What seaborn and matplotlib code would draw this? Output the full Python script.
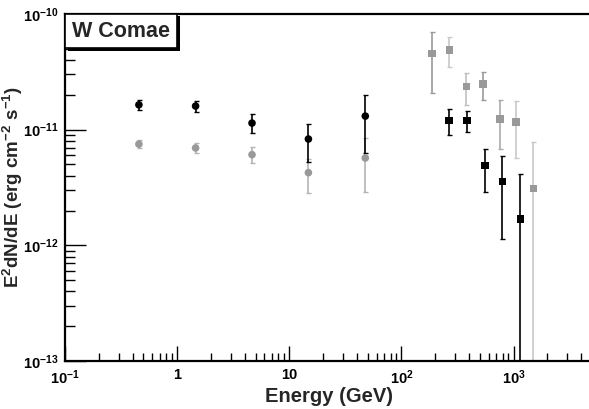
import numpy as np
import pandas as pd
import seaborn as sns
import matplotlib.pyplot as plt
from matplotlib.patches import Rectangle
from matplotlib.ticker import FixedLocator, LogLocator, NullFormatter

# Fermi-LAT like points (circles)
e_circ = [0.456, 1.46, 4.65, 14.8, 47.6]
f_black_circ = [1.64e-11, 1.60e-11, 1.14e-11, 8.3e-12, 1.31e-11]
lo_black_circ = [1.48e-11, 1.43e-11, 9.3e-12, 5.3e-12, 6.25e-12]
hi_black_circ = [1.81e-11, 1.77e-11, 1.36e-11, 1.12e-11, 2.0e-11]

f_gray_circ = [7.5e-12, 6.95e-12, 6.08e-12, 4.25e-12, 5.69e-12]
lo_gray_circ = [6.9e-12, 6.3e-12, 5.1e-12, 2.85e-12, 2.88e-12]
hi_gray_circ = [8.2e-12, 7.6e-12, 7.1e-12, 5.6e-12, 8.4e-12]

# TeV points (squares)
e_gray_sq = [188, 268, 380, 531, 753, 1052, 1500]
f_gray_sq = [4.54e-11, 4.89e-11, 2.36e-11, 2.48e-11, 1.24e-11, 1.17e-11, 3.09e-12]
lo_gray_sq = [2.08e-11, 3.46e-11, 1.63e-11, 1.81e-11, 6.86e-12, 5.73e-12, 1e-14]
hi_gray_sq = [7.03e-11, 6.3e-11, 3.07e-11, 3.13e-11, 1.81e-11, 1.78e-11, 7.78e-12]
gray_sq_errcol = ["#999999", "#c8c8c8", "#c0c0c0", "#999999", "#aaaaaa", "#c8c8c8", "#c8c8c8"]

e_black_sq = [266, 383, 553, 795, 1148]
f_black_sq = [1.20e-11, 1.20e-11, 4.89e-12, 3.56e-12, 1.68e-12]
lo_black_sq = [9.0e-12, 9.6e-12, 2.88e-12, 1.14e-12, 1e-14]
hi_black_sq = [1.50e-11, 1.45e-11, 6.86e-12, 5.96e-12, 4.17e-12]

sns.set_style("ticks")
plt.rcParams['font.family'] = ['Liberation Sans', 'DejaVu Sans']
plt.rcParams['font.weight'] = 'bold'
plt.rcParams['mathtext.fontset'] = 'custom'
plt.rcParams['mathtext.rm'] = 'Liberation Sans:bold'
plt.rcParams['mathtext.bf'] = 'Liberation Sans:bold'
plt.rcParams['mathtext.it'] = 'Liberation Sans:bold'
plt.rcParams['mathtext.default'] = 'bf'

W, H = 589, 409
fig = plt.figure(figsize=(W / 100, H / 100), dpi=100)
ax = fig.add_axes([65 / W, 48 / H, 1 - 65 / W, (361 - 14) / H])
ax.set_xscale('log')
ax.set_yscale('log')


def draw(ax, e, f, lo, hi, color, ecol, marker):
    f = np.array(f)
    yerr = [f - np.array(lo), np.array(hi) - f]
    if isinstance(ecol, str):
        ecol = [ecol] * len(e)
    for i in range(len(e)):
        ax.errorbar([e[i]], [f[i]], yerr=[[yerr[0][i]], [yerr[1][i]]], fmt='none',
                    ecolor=ecol[i], elinewidth=1.2, capsize=1.8, capthick=1.0, zorder=2)
    df = pd.DataFrame({'E': e, 'F': f})
    sns.scatterplot(data=df, x='E', y='F', ax=ax, marker=marker, s=30, color=color,
                    edgecolor='none', linewidth=0, zorder=3)


draw(ax, e_circ, f_gray_circ, lo_gray_circ, hi_gray_circ, '#999999', '#b4b4b4', 'o')
draw(ax, e_circ, f_black_circ, lo_black_circ, hi_black_circ, 'black', 'black', 'o')
draw(ax, e_gray_sq, f_gray_sq, lo_gray_sq, hi_gray_sq, '#999999', gray_sq_errcol, 's')
draw(ax, e_black_sq, f_black_sq, lo_black_sq, hi_black_sq, 'black', 'black', 's')

ax.set_xlim(0.1, 4700)
ax.set_ylim(1e-13, 1e-10)

ax.xaxis.set_major_locator(FixedLocator([0.1, 1, 10, 100, 1000]))
ax.set_xticklabels([r'$10^{-1}$', '1', '10', r'$10^{2}$', r'$10^{3}$'])
ax.xaxis.set_minor_locator(LogLocator(base=10, subs=np.arange(2, 10)))
ax.xaxis.set_minor_formatter(NullFormatter())
ax.yaxis.set_major_locator(FixedLocator([1e-13, 1e-12, 1e-11, 1e-10]))
ax.set_yticklabels([r'$10^{-13}$', r'$10^{-12}$', r'$10^{-11}$', r'$10^{-10}$'])
ax.yaxis.set_minor_locator(LogLocator(base=10, subs=np.arange(2, 10)))
ax.yaxis.set_minor_formatter(NullFormatter())

ax.tick_params(axis='both', which='both', direction='in', colors='black', width=1.0,
               labelsize=10.5, top=False, right=False)
ax.tick_params(axis='x', which='major', length=11, pad=5)
ax.tick_params(axis='x', which='minor', length=6)
ax.tick_params(axis='y', which='major', length=15, pad=5)
ax.tick_params(axis='y', which='minor', length=7)

for side in ['left', 'bottom', 'top']:
    ax.spines[side].set_linewidth(1.6)
    ax.spines[side].set_color('black')
ax.spines['right'].set_visible(False)

ax.set_xlabel('Energy (GeV)', fontsize=14.5, fontweight='bold')
ax.xaxis.set_label_coords((329 - 65) / 524, -(397 - 361) / 347)
ax.xaxis.label.set_va('center')
ax.set_ylabel(r'E$^{2}$dN/dE (erg cm$^{-2}$ s$^{-1}$)', fontsize=13.5, fontweight='bold')
ax.yaxis.set_label_coords(-(65 - 13) / 524, (361 - 187) / 347)
ax.yaxis.label.set_va('center')

# title box with ROOT-like shadow
bx0, by0 = 0.0, (361 - 48) / 347
bw, bh = (177 - 65) / 524, (48 - 14) / 347
ax.add_patch(Rectangle((bx0 + 2.5 / 524, by0 - 2.5 / 347), bw, bh, transform=ax.transAxes,
                       facecolor='black', edgecolor='none', clip_on=False, zorder=5))
ax.add_patch(Rectangle((bx0, by0), bw, bh, transform=ax.transAxes, facecolor='white',
                       edgecolor='black', linewidth=1.2, clip_on=False, zorder=6))
ax.text(bx0 + bw / 2, by0 + bh / 2, 'W Comae', transform=ax.transAxes, fontsize=15.5,
        fontweight='bold', ha='center', va='center', zorder=7)

fig.savefig('out.png', dpi=100)
